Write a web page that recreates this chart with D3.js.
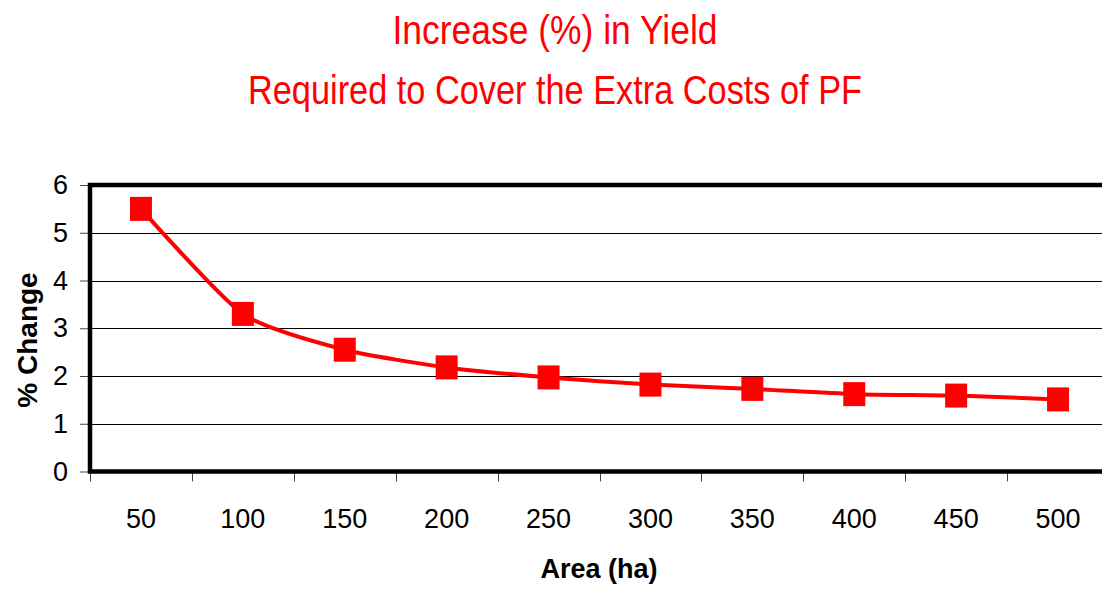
<!DOCTYPE html>
<html lang="en">
<head>
    <meta charset="UTF-8">
    <title>Increase (%) in Yield</title>
    <script src="https://d3js.org/d3.v7.min.js"></script>
    <style>
        body { margin: 0; background: #fff; }
        svg { font-family: Arial, "Liberation Sans", Helvetica, sans-serif; display: block; }
        .title { font-family: "Liberation Sans Narrow", "Arial Narrow", sans-serif; fill: #ff0000; }
    </style>
</head>
<body>
    <script>
        // chart data
        const areas = ["50", "100", "150", "200", "250", "300", "350", "400", "450", "500"];
        const pctChange = [5.5, 3.3, 2.55, 2.18, 1.97, 1.82, 1.73, 1.62, 1.59, 1.51];
        const yTicks = [0, 1, 2, 3, 4, 5, 6];
        const titleLines = ["Increase (%) in Yield", "Required to Cover the Extra Costs of PF"];

        const W = 1102, H = 592;
        // plot box (runs past the right edge like the original)
        const plot = { left: 90, top: 185, right: 1109, bottom: 471.5 };

        const svg = d3.select("body").append("svg")
            .attr("width", W)
            .attr("height", H);

        const x = d3.scaleBand()
            .domain(areas)
            .range([plot.left, plot.right]);

        const y = d3.scaleLinear()
            .domain([0, 6])
            .range([plot.bottom, plot.top]);

        // title
        svg.selectAll("text.title")
            .data(titleLines)
            .join("text")
            .attr("class", "title")
            .attr("x", 555)
            .attr("y", (d, i) => 44 + i * 60)
            .attr("text-anchor", "middle")
            .attr("font-size", 41)
            .attr("textLength", (d, i) => i === 0 ? 325 : 614)
            .attr("lengthAdjust", "spacingAndGlyphs")
            .text(d => d);

        // gridlines
        svg.append("g")
            .selectAll("line")
            .data(yTicks.slice(1, -1))
            .join("line")
            .attr("x1", plot.left)
            .attr("x2", plot.right)
            .attr("y1", d => Math.round(y(d)) + 0.5)
            .attr("y2", d => Math.round(y(d)) + 0.5)
            .attr("stroke", "#000")
            .attr("stroke-width", 1);

        // y axis
        const yAxis = svg.append("g")
            .attr("transform", `translate(${plot.left},0)`)
            .call(d3.axisLeft(y).tickValues(yTicks).tickFormat(d3.format("d")).tickSize(10).tickPadding(12))
            .call(g => g.select(".domain").remove());
        yAxis.selectAll(".tick line").attr("stroke", "#444");
        yAxis.selectAll("text")
            .attr("font-size", 27)
            .attr("fill", "#000")
            .attr("font-family", "Arial, 'Liberation Sans', sans-serif");

        // x axis - ticks sit on category boundaries
        const bounds = areas.map(a => x(a)).concat([plot.right]);
        svg.append("g")
            .selectAll("line")
            .data(bounds)
            .join("line")
            .attr("x1", d => Math.round(d) + 0.5)
            .attr("x2", d => Math.round(d) + 0.5)
            .attr("y1", plot.bottom)
            .attr("y2", plot.bottom + 10)
            .attr("stroke", "#444");

        svg.append("g")
            .selectAll("text")
            .data(areas)
            .join("text")
            .attr("x", d => x(d) + x.bandwidth() / 2)
            .attr("y", 528)
            .attr("text-anchor", "middle")
            .attr("font-size", 27)
            .text(d => d);

        // plot frame
        svg.append("rect")
            .attr("x", plot.left)
            .attr("y", plot.top)
            .attr("width", plot.right - plot.left)
            .attr("height", plot.bottom - plot.top)
            .attr("fill", "none")
            .attr("stroke", "#000")
            .attr("stroke-width", 4.5);

        // axis titles
        svg.append("text")
            .attr("x", 599)
            .attr("y", 578)
            .attr("text-anchor", "middle")
            .attr("font-size", 27)
            .attr("font-weight", "bold")
            .text("Area (ha)");

        svg.append("text")
            .attr("transform", "translate(37,340) rotate(-90)")
            .attr("text-anchor", "middle")
            .attr("font-size", 28)
            .attr("font-weight", "bold")
            .text("% Change");

        // series
        const pts = areas.map((a, i) => [x(a) + x.bandwidth() / 2, y(pctChange[i])]);

        svg.append("path")
            .datum(pts)
            .attr("fill", "none")
            .attr("stroke", "#ff0000")
            .attr("stroke-width", 4)
            .attr("d", d3.line().curve(d3.curveCardinal.tension(0.35)));

        svg.append("g")
            .selectAll("rect")
            .data(pts)
            .join("rect")
            .attr("x", d => d[0] - 11)
            .attr("y", d => d[1] - 12)
            .attr("width", 22)
            .attr("height", 24)
            .attr("fill", "#ff0000");
    </script>
</body>
</html>
